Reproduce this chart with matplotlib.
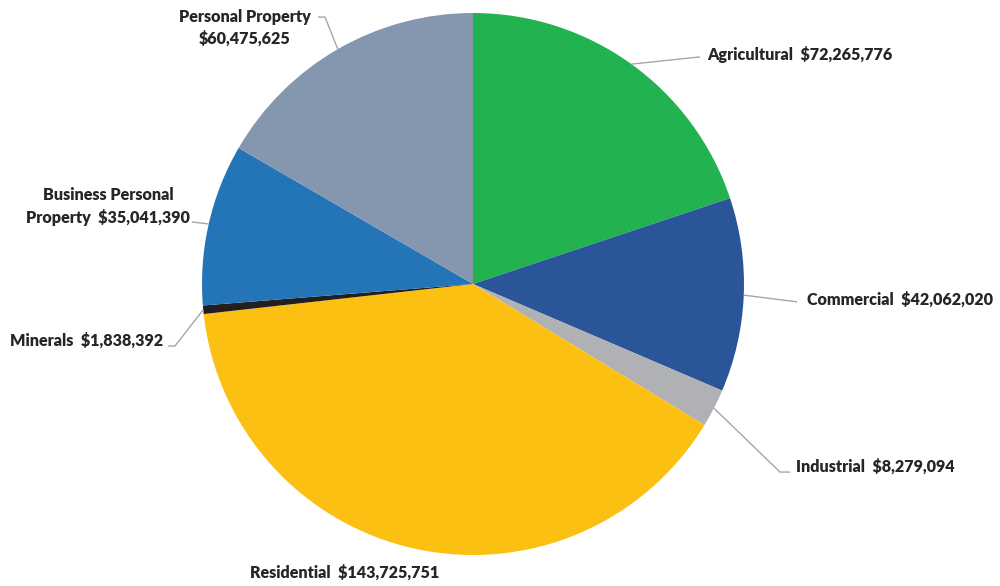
import numpy as np
import matplotlib
matplotlib.use("Agg")
import matplotlib.pyplot as plt

categories = ["Agricultural", "Commercial", "Industrial", "Residential",
              "Minerals", "Business Personal Property", "Personal Property"]
values = [72265776, 42062020, 8279094, 143725751, 1838392, 35041390, 60475625]
colors = ["#22B24F", "#2A5699", "#AFB1B4", "#FBC012", "#231F20", "#2474B8", "#8597AF"]

fig = plt.figure(figsize=(10, 5.86), dpi=100)
ax = fig.add_axes([0.202, 31 / 586, 0.542, 542 / 586])
wedges, _ = ax.pie(values, colors=colors, startangle=90, counterclock=False,
                   radius=1.0, wedgeprops=dict(linewidth=0))
ax.set_xlim(-1, 1)
ax.set_ylim(-1, 1)
ax.set_aspect("equal")
ax.axis("off")

font = dict(family="Lato", fontweight="heavy", fontsize=11.6, color="#262626")
line_kw = dict(color="#A6A6A6", lw=1.0, clip_on=False, solid_capstyle="butt")

def label_text(i):
    v = f"${values[i]:,}"
    if i == 5:
        return "Business Personal\nProperty  " + v
    if i == 6:
        return "Personal Property\n" + v
    return f"{categories[i]}  {v}"

# label layout: text anchor (x, y, ha), leader path points after the wedge edge point
layout = [
    ((0.865, 0.848, "left"), [(0.838, 0.838)]),
    ((1.232, -0.059, "left"), [(1.196, -0.066)]),
    ((1.192, -0.672, "left"), [(1.133, -0.694), (1.17, -0.694)]),
    ((-0.472, -1.066, "center"), None),
    ((-1.144, -0.207, "right"), [(-1.10, -0.229), (-1.125, -0.229)]),
    ((-1.347, 0.286, "center"), [(-1.037, 0.229)]),
    ((-0.841, 0.946, "center"), [(-0.546, 0.985), (-0.572, 0.985)]),
]

for i, w in enumerate(wedges):
    mid = np.deg2rad((w.theta1 + w.theta2) / 2)
    ex, ey = np.cos(mid), np.sin(mid)
    (tx, ty, ha), path = layout[i]
    if path:
        xs = [ex] + [p[0] for p in path]
        ys = [ey] + [p[1] for p in path]
        ax.plot(xs, ys, **line_kw)
    ax.text(tx, ty, label_text(i), ha=ha, va="center", multialignment="center",
            linespacing=1.4, clip_on=False, **font)

fig.savefig("out.png", dpi=100, facecolor="white")
